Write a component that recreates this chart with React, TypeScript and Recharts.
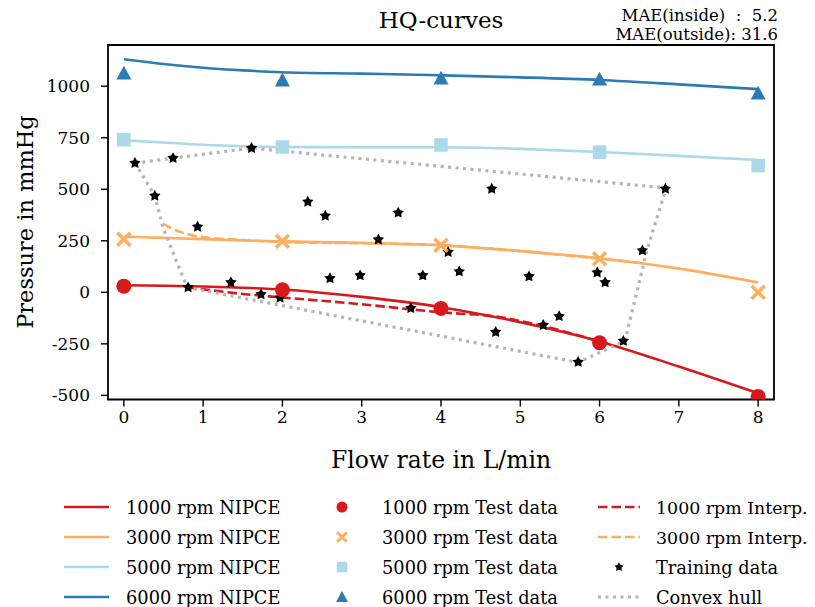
import React from 'react';
import { ComposedChart, Line, Scatter, XAxis, YAxis, ReferenceArea } from 'recharts';

// ---- data ----
const xTicks = [0, 1, 2, 3, 4, 5, 6, 7, 8];
const yTicks = [-500, -250, 0, 250, 500, 750, 1000];

const nipceX = [0, 0.5, 1, 1.5, 2, 3, 4, 5, 6, 7, 8];
const nipce6000 = [1131, 1108, 1090, 1077, 1068, 1061, 1053, 1043, 1030, 1009, 986];
const nipce5000 = [738, 727, 716, 709, 705, 704, 704, 696, 681, 662, 642];
const nipce3000 = [270, 264, 258, 252, 247, 240, 228, 200, 165, 115, 48];
const nipce1000 = [34, 32, 28, 22, 14, -22, -72, -145, -238, -360, -490];

const testX = [0, 2, 4, 6, 8];
const test6000 = [1063, 1030, 1039, 1034, 966];
const test5000 = [740, 705, 715, 680, 615];
const test3000 = [258, 248, 228, 163, 0];
const test1000 = [30, 12, -78, -245, -505];

const interp3000X = [0.49, 0.7, 0.96, 1.5, 2, 3, 4, 5, 6, 6.5];
const interp3000Y = [333, 295, 270, 254, 244, 238, 229, 200, 163, 143];
const interp1000X = [0.8, 1.5, 2, 3, 4, 4.7, 5.3, 6.1];
const interp1000Y = [25, -8, -25, -58, -97, -118, -165, -250];

const trainX = [0.14, 0.39, 0.62, 0.93, 0.81, 1.35, 1.61, 1.73, 1.97, 2.32, 2.54, 2.6, 2.98, 3.21, 3.46,
  3.62, 3.77, 4.09, 4.23, 4.64, 4.69, 5.11, 5.29, 5.49, 5.73, 5.97, 6.07, 6.3, 6.54, 6.83];
const trainY = [627, 468, 651, 318, 24, 48, 700, -10, -27, 439, 371, 68, 82, 256, 386,
  -77, 82, 195, 101, 502, -193, 77, -159, -116, -338, 96, 48, -236, 203, 502];

const hullX = [0.14, 0.62, 1.6, 6.84, 6.6, 6.32, 5.73, 0.8, 0.67, 0.49, 0.39, 0.14];
const hullY = [627, 651, 700, 506, 207, -236, -340, 24, 145, 318, 470, 627];

const RED = '#d7191c';
const ORANGE = '#fdae61';
const LIGHTBLUE = '#abd9e9';
const BLUE = '#2c7bb6';
const HULL = '#b4b4b4';
const FONT = "'DejaVu Serif', serif";

const pts = (xs: number[], ys: number[]) => xs.map((x, i) => ({ x, y: ys[i] }));

// ---- marker shapes ----
const Dot = ({ cx, cy, r = 7.5, fill }: any) => <circle cx={cx} cy={cy} r={r} fill={fill} />;
const XMark = ({ cx, cy, s = 6.5, color, w = 3.6 }: any) => (
  <path d={`M${cx - s},${cy - s}L${cx + s},${cy + s}M${cx - s},${cy + s}L${cx + s},${cy - s}`} stroke={color} strokeWidth={w} fill="none" />
);
const Square = ({ cx, cy, s = 13.5, fill }: any) => <rect x={cx - s / 2} y={cy - s / 2} width={s} height={s} fill={fill} />;
const Tri = ({ cx, cy, s = 7.5, fill }: any) => (
  <polygon points={`${cx},${cy - s} ${cx - s},${cy + s * 0.85} ${cx + s},${cy + s * 0.85}`} fill={fill} />
);
const Star = ({ cx, cy, R = 6, r = 3.2 }: any) => {
  const p: string[] = [];
  for (let i = 0; i < 10; i++) {
    const a = (-90 + i * 36) * Math.PI / 180;
    const rr = i % 2 ? r : R;
    p.push(`${cx + rr * Math.cos(a)},${cy + rr * Math.sin(a)}`);
  }
  return <polygon points={p.join(' ')} fill="#000" />;
};

const legendRows = [507, 537, 567, 597];
const txt = { fontFamily: FONT, fill: '#000' };
const LEG = 17.8;

export default function App() {
  const tickStyle = { fill: '#000', fontSize: 17, fontFamily: FONT };
  return (
    <div style={{ position: 'absolute', left: 0, top: 0, width: 815, height: 607, background: '#fff', fontFamily: FONT }}>
      <ComposedChart width={815} height={607} margin={{ top: 45, right: 41, bottom: 177.5, left: 48 }} style={{ fontFamily: FONT }}>
        <XAxis dataKey="x" type="number" domain={[-0.2, 8.2]} ticks={xTicks} allowDataOverflow
          height={30} axisLine={false} tickSize={7} tickMargin={4}
          tickLine={{ stroke: '#000', strokeWidth: 1.4 }} tick={tickStyle} />
        <YAxis dataKey="y" type="number" domain={[-520, 1200]} ticks={yTicks} allowDataOverflow
          width={60} axisLine={false} tickSize={7} tickMargin={11}
          tickLine={{ stroke: '#000', strokeWidth: 1.4 }} tick={tickStyle} />

        <Line data={pts(nipceX, nipce1000)} dataKey="y" type="monotone" stroke={RED} strokeWidth={2.6} dot={false} activeDot={false} isAnimationActive={false} />
        <Line data={pts(nipceX, nipce3000)} dataKey="y" type="monotone" stroke={ORANGE} strokeWidth={2.6} dot={false} activeDot={false} isAnimationActive={false} />
        <Line data={pts(nipceX, nipce5000)} dataKey="y" type="monotone" stroke={LIGHTBLUE} strokeWidth={2.6} dot={false} activeDot={false} isAnimationActive={false} />
        <Line data={pts(nipceX, nipce6000)} dataKey="y" type="monotone" stroke={BLUE} strokeWidth={2.6} dot={false} activeDot={false} isAnimationActive={false} />

        <Line data={pts(interp1000X, interp1000Y)} dataKey="y" type="monotone" stroke={RED} strokeWidth={2.6} strokeDasharray="9.5 4" dot={false} activeDot={false} isAnimationActive={false} />
        <Line data={pts(interp3000X, interp3000Y)} dataKey="y" type="monotone" stroke={ORANGE} strokeWidth={2.6} strokeDasharray="9.5 4" dot={false} activeDot={false} isAnimationActive={false} />

        <Scatter data={pts(trainX, trainY)} isAnimationActive={false} shape={(p: any) => <Star cx={p.cx} cy={p.cy} />} />
        <Line data={pts(hullX, hullY)} dataKey="y" type="linear" stroke={HULL} strokeWidth={3.2} strokeDasharray="3 4.5" dot={false} activeDot={false} isAnimationActive={false} />

        <Scatter data={pts(testX, test1000)} isAnimationActive={false} shape={(p: any) => <Dot cx={p.cx} cy={p.cy} fill={RED} />} />
        <Scatter data={pts(testX, test3000)} isAnimationActive={false} shape={(p: any) => <XMark cx={p.cx} cy={p.cy} color={ORANGE} />} />
        <Scatter data={pts(testX, test5000)} isAnimationActive={false} shape={(p: any) => <Square cx={p.cx} cy={p.cy} fill={LIGHTBLUE} />} />
        <Scatter data={pts(testX, test6000)} isAnimationActive={false} shape={(p: any) => <Tri cx={p.cx} cy={p.cy} fill={BLUE} />} />

        <ReferenceArea x1={-0.2} x2={8.2} y1={-520} y2={1200} fill="none" stroke="#000" strokeWidth={1.8} fillOpacity={0} ifOverflow="visible" />
      </ComposedChart>

      <svg width={815} height={607} style={{ position: 'absolute', left: 0, top: 0, pointerEvents: 'none', fontFamily: FONT }}>
        <text x={441} y={28} textAnchor="middle" fontSize={23} style={txt}>HQ-curves</text>
        <text x={778} y={21} textAnchor="end" fontSize={16.5} style={{ ...txt, whiteSpace: 'pre' }}>{'MAE(inside)  :  5.2'}</text>
        <text x={778} y={39.5} textAnchor="end" fontSize={16.5} style={{ ...txt, whiteSpace: 'pre' }}>{'MAE(outside): 31.6'}</text>
        <text x={441} y={468} textAnchor="middle" fontSize={23.5} style={txt}>Flow rate in L/min</text>
        <text transform="translate(33,222) rotate(-90)" textAnchor="middle" fontSize={22.5} style={txt}>Pressure in mmHg</text>

        {/* legend */}
        {[RED, ORANGE, LIGHTBLUE, BLUE].map((c, i) => (
          <g key={`l1-${i}`}>
            <line x1={64} x2={109} y1={legendRows[i]} y2={legendRows[i]} stroke={c} strokeWidth={2.6} />
            <text x={126} y={legendRows[i] + 6.5} fontSize={LEG} style={txt}>{`${[1000, 3000, 5000, 6000][i]} rpm NIPCE`}</text>
          </g>
        ))}
        <Dot cx={342} cy={legendRows[0]} r={5.5} fill={RED} />
        <XMark cx={342} cy={legendRows[1]} s={4.8} w={3} color={ORANGE} />
        <Square cx={342} cy={legendRows[2]} s={10.5} fill={LIGHTBLUE} />
        <Tri cx={342} cy={legendRows[3]} s={6} fill={BLUE} />
        {[1000, 3000, 5000, 6000].map((s, i) => (
          <text key={`l2-${i}`} x={382} y={legendRows[i] + 6.5} fontSize={LEG} style={txt}>{`${s} rpm Test data`}</text>
        ))}
        <line x1={598} x2={640} y1={legendRows[0]} y2={legendRows[0]} stroke={RED} strokeWidth={2.6} strokeDasharray="9.5 4" />
        <line x1={598} x2={640} y1={legendRows[1]} y2={legendRows[1]} stroke={ORANGE} strokeWidth={2.6} strokeDasharray="9.5 4" />
        <Star cx={619} cy={legendRows[2]} R={4.8} r={2.6} />
        <line x1={598} x2={640} y1={legendRows[3]} y2={legendRows[3]} stroke={HULL} strokeWidth={3.2} strokeDasharray="3 4.5" />
        <text x={656} y={legendRows[0] + 6.5} fontSize={LEG - 0.4} style={txt}>1000 rpm Interp.</text>
        <text x={656} y={legendRows[1] + 6.5} fontSize={LEG - 0.4} style={txt}>3000 rpm Interp.</text>
        <text x={656} y={legendRows[2] + 6.5} fontSize={LEG} style={txt}>Training data</text>
        <text x={656} y={legendRows[3] + 6.5} fontSize={LEG} style={txt}>Convex hull</text>
      </svg>
    </div>
  );
}
